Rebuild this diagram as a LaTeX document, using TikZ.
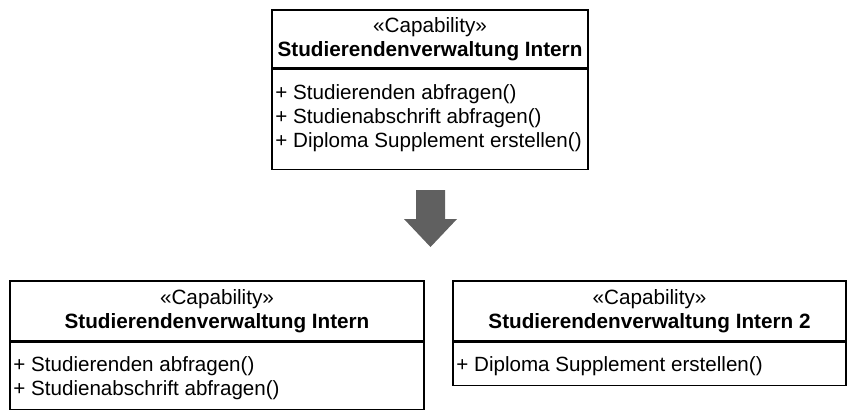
\documentclass[tikz,border=0pt]{standalone}
\usepackage{fontspec}
\setmainfont{Liberation Sans}
\usetikzlibrary{positioning}

\definecolor{arrowgray}{HTML}{606060}

\tikzset{
  capname/.style={draw, line width=1.6pt, inner sep=0pt, align=center,
    font=\fontsize{20.7}{23.5}\selectfont},
  capbody/.style={draw, line width=1.6pt, inner sep=0pt},
  capops/.style={anchor=north west, align=left, inner sep=0pt,
    font=\fontsize{20.6}{24}\selectfont},
}

\begin{document}
\begin{tikzpicture}[x=1pt, y=-1pt]
  \useasboundingbox (0,0) rectangle (858,410);

  % Original capability
  \node[capname, minimum width=316pt, minimum height=58pt] (top) at (430,39)
    {«Capability»\\\textbf{Studierendenverwaltung Intern}};
  \node[capbody, minimum width=316pt, minimum height=100pt, below=0pt of top] (topops) {};
  \node[capops] (topopstext) at ([xshift=4pt, yshift=-16pt]topops.north west)
    {+ Studierenden abfragen()\\+ Studienabschrift abfragen()\\+ Diploma Supplement erstellen()};

  % Split arrow
  \fill[arrowgray] (416,190) -- (445,190) -- (445,219) -- (457,219) -- (430.5,247)
    -- (404,219) -- (416,219) -- cycle;

  % First capability after split
  \node[capname, minimum width=414pt, minimum height=60pt] (left) at (217,311)
    {«Capability»\\\textbf{Studierendenverwaltung Intern}};
  \node[capbody, minimum width=414pt, minimum height=67pt, below=0pt of left] (leftops) {};
  \node[capops] (leftopstext) at ([xshift=4pt, yshift=-15pt]leftops.north west)
    {+ Studierenden abfragen()\\+ Studienabschrift abfragen()};

  % Second capability after split
  \node[capname, minimum width=393pt, minimum height=60pt] (right) at (649.5,311)
    {«Capability»\\\textbf{Studierendenverwaltung Intern 2}};
  \node[capbody, minimum width=393pt, minimum height=43pt, below=0pt of right] (rightops) {};
  \node[capops] (rightopstext) at ([xshift=4pt, yshift=-15pt]rightops.north west)
    {+ Diploma Supplement erstellen()};
\end{tikzpicture}
\end{document}
